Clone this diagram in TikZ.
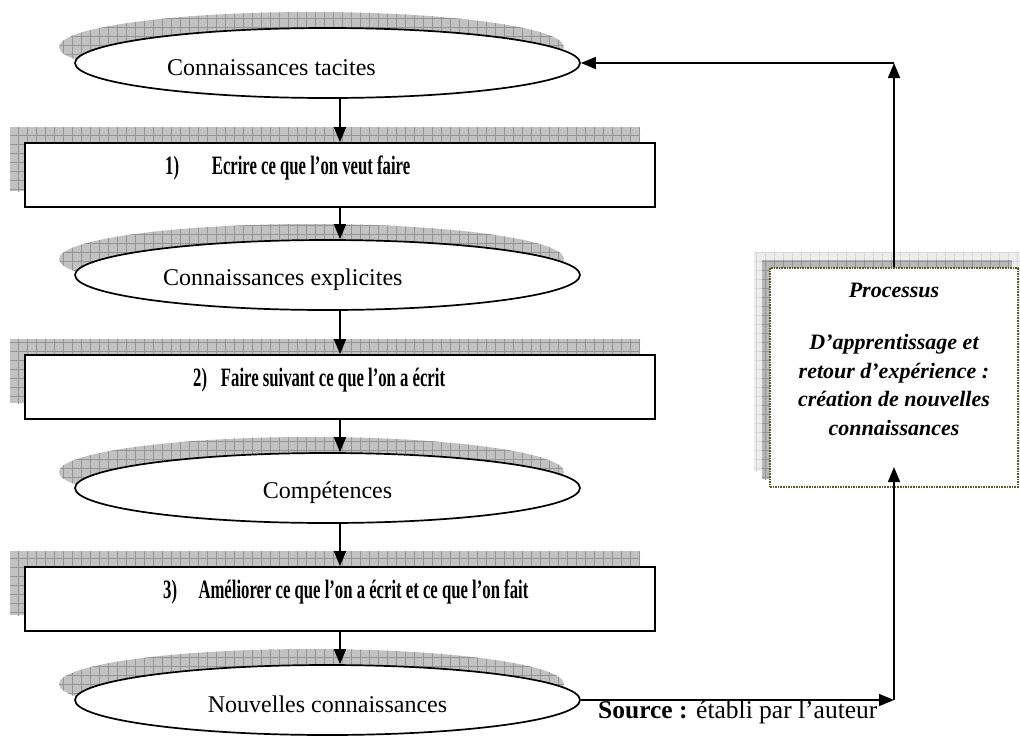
\documentclass[tikz,border=0pt]{standalone}
\usepackage{fontspec}
\usepackage{graphicx}
\setmainfont{Liberation Serif}
\usetikzlibrary{arrows.meta,shapes.geometric}
\newcommand{\gridshadow}[2]{%
  \begin{scope}
    \clip #2;
    \fill[#1fill] #2;
    \draw[#1grid] (-20,-20) grid (1040,760);
  \end{scope}}
\tikzset{
  sfill/.style={fill=black!24},
  sgrid/.style={draw=black!42, line width=0.5pt, step=9pt},
  lfill/.style={fill=black!7},
  lgrid/.style={draw=black!16, line width=0.5pt, step=9pt},
  dfill/.style={fill=black!28},
  dgrid/.style={draw=black!42, line width=0.5pt, step=9pt},
  ellip/.style={draw, ellipse, line width=1.7pt, fill=white,
    minimum width=505pt, minimum height=70pt, inner sep=0pt},
  stepbox/.style={draw, rectangle, line width=1.7pt, fill=white,
    minimum width=630pt, minimum height=64pt, inner sep=0pt},
  pbox/.style={draw=olive!55!black, densely dotted, line width=1.6pt, fill=white,
    minimum width=248pt, minimum height=219pt, inner sep=0pt},
  etxt/.style={font=\fontsize{24}{28}\selectfont, inner sep=0pt},
  btxt/.style={font=\fontsize{26.5}{30}\selectfont\bfseries, inner sep=0pt, anchor=west},
  ptxt/.style={font=\fontsize{22}{28.5}\selectfont\bfseries\itshape, inner sep=0pt,
    align=center, anchor=north},
  srctxt/.style={font=\fontsize{25.5}{30}\selectfont, inner sep=0pt},
  arr/.style={line width=1.5pt, -{Triangle[length=15pt,width=12pt]}},
}
\newcommand{\narrow}[1]{\scalebox{0.63}[1]{#1}}
\begin{document}
\begin{tikzpicture}[x=1pt,y=-1pt]
\useasboundingbox (0,0) rectangle (1020,740);
\fill[white] (0,0) rectangle (1020,740);

% shadows
\gridshadow{s}{(311.5,47) ellipse [x radius=252.5pt, y radius=35pt]}
\gridshadow{s}{(10,127) rectangle (640,191)}
\gridshadow{s}{(311.5,259) ellipse [x radius=252.5pt, y radius=35pt]}
\gridshadow{s}{(10,339) rectangle (640,403)}
\gridshadow{s}{(311.5,472) ellipse [x radius=252.5pt, y radius=35pt]}
\gridshadow{s}{(10,551) rectangle (640,615)}
\gridshadow{s}{(311.5,684) ellipse [x radius=252.5pt, y radius=35pt]}
\gridshadow{l}{(754,252) rectangle (1020,471)}
\gridshadow{d}{(762,260) rectangle (1012,479)}

% main column
\node[ellip] (e1) at (327.5,63) {};
\node[etxt, anchor=west] (t1) at ([xshift=-160.5pt, yshift=-5pt]e1.center) {Connaissances tacites};
\node[stepbox] (b1) at (340,175) {};
\node[btxt] (s1) at ([xshift=-175pt, yshift=7pt]b1.center) {\narrow{1)\hspace{52pt}Ecrire ce que l’on veut faire}};
\node[ellip] (e2) at (327.5,275) {};
\node[etxt, anchor=west] (t2) at ([xshift=-164.5pt, yshift=-5pt]e2.center) {Connaissances explicites};
\node[stepbox] (b2) at (340,387) {};
\node[btxt] (s2) at ([xshift=-147pt, yshift=7pt]b2.center) {\narrow{2)\hspace{22pt}Faire suivant ce que l’on a écrit}};
\node[ellip] (e3) at (327.5,488) {};
\node[etxt] (t3) at ([yshift=-5pt]e3.center) {Compétences};
\node[stepbox] (b3) at (340,599) {};
\node[btxt] (s3) at ([xshift=-177pt, yshift=7pt]b3.center) {\narrow{3)\hspace{34pt}Améliorer ce que l’on a écrit et ce que l’on fait}};
\node[ellip] (e4) at (327.5,700) {};
\node[etxt] (t4) at ([yshift=-4pt]e4.center) {Nouvelles connaissances};

% right box
\node[pbox] (P) at (894,377.5) {};
\node[ptxt] (pt) at ([yshift=-16pt]P.north) {Processus\\[23.5pt]D’apprentissage et\\retour d’expérience :\\création de nouvelles\\connaissances};

\node[srctxt, anchor=west] (src) at (598,712) {\textbf{Source :} établi par l’auteur};

% connectors
\draw[arr] (b1.north |- e1.south) -- (b1.north);
\draw[arr] (b1.south) -- (b1.south |- e2.north);
\draw[arr] (b2.north |- e2.south) -- (b2.north);
\draw[arr] (b2.south) -- (b2.south |- e3.north);
\draw[arr] (b3.north |- e3.south) -- (b3.north);
\draw[arr] (b3.south) -- (b3.south |- e4.north);

\coordinate (c1) at (894,63);
\coordinate (c2) at (894,700);
\coordinate (pin) at (894,467);
\draw[arr] (P.north) -- (c1);
\draw[arr] (c1) -- (e1.east);
\draw[arr] (e4.east) -- (c2);
\draw[arr] (c2) -- (pin);
\end{tikzpicture}
\end{document}
